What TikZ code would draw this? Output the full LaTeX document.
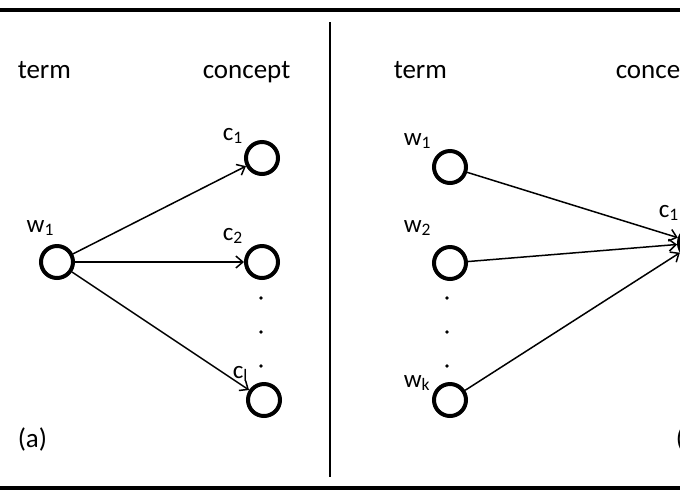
\documentclass[tikz,border=0pt]{standalone}
\usepackage{fontspec}
\setmainfont{Carlito}
\usetikzlibrary{arrows,arrows.meta}
\tikzset{
	main node/.style={circle,draw,line width=2pt,minimum size=16pt,inner sep=0pt},
	label text/.style={font=\fontsize{12.5}{14}\selectfont,anchor=base west,inner sep=0pt},
	head text/.style={font=\fontsize{13.5}{16}\selectfont,anchor=base west,inner sep=0pt},
	rule/.style={line width=2pt,-}
}
\newcommand{\dotcol}[2]{\foreach \y in {298,332,366} \fill (#1,\y) circle (0.9pt);}

\begin{document}
\begin{tikzpicture}[->,>={Straight Barb[length=3.5pt,width=6pt]},line width=0.75pt,x=0.5pt,y=-0.5pt]
	\useasboundingbox (0,0) rectangle (680,500);
	\clip (0,0) rectangle (680,500);
	% frame
	\draw [rule] (0,10) -- (680,10);
	\draw [rule] (0,488) -- (680,488);
	\draw [line width=1pt,-] (330,22) -- (330,477);
	% (a) one term, many concepts
	\node [head text] (t1) at (17,78) {term};
	\node [head text] (t2) at (202,78) {concept};
	\node [main node] (1) at (57,262) {};
	\node [main node] (2) at (262,158) {};
	\node [main node] (3) at (262,262) {};
	\node [main node] (4) at (264,400) {};
	\node [label text] (l1) at (26,232) {w\textsubscript{1}};
	\node [label text] (l2) at (222,140) {c\textsubscript{1}};
	\node [label text] (l3) at (222,240) {c\textsubscript{2}};
	\node [label text] (l4) at (232,378) {c\textsubscript{l}};
	\dotcol{261}{}
	\node [head text] (a) at (17,447) {(a)};
	\draw (1) -- (2);
	\draw (1) -- (3);
	\draw (1) -- (4);
	% (b) many terms, one concept
	\node [head text] (t3) at (393,78) {term};
	\node [head text] (t4) at (615,78) {concept};
	\node [main node] (5) at (450,167) {};
	\node [main node] (6) at (450,263) {};
	\node [main node] (7) at (450,400) {};
	\node [main node] (8) at (695,243) {};
	\node [label text] (l5) at (403,145) {w\textsubscript{1}};
	\node [label text] (l6) at (403,232) {w\textsubscript{2}};
	\node [label text] (l7) at (403,387) {w\textsubscript{k}};
	\node [label text] (l8) at (658,217) {c\textsubscript{1}};
	\dotcol{447}{}
	\node [head text] (b) at (675,447) {(b)};
	\draw (5) -- (8);
	\draw (6) -- (8);
	\draw (7) -- (8);
\end{tikzpicture}
\end{document}
